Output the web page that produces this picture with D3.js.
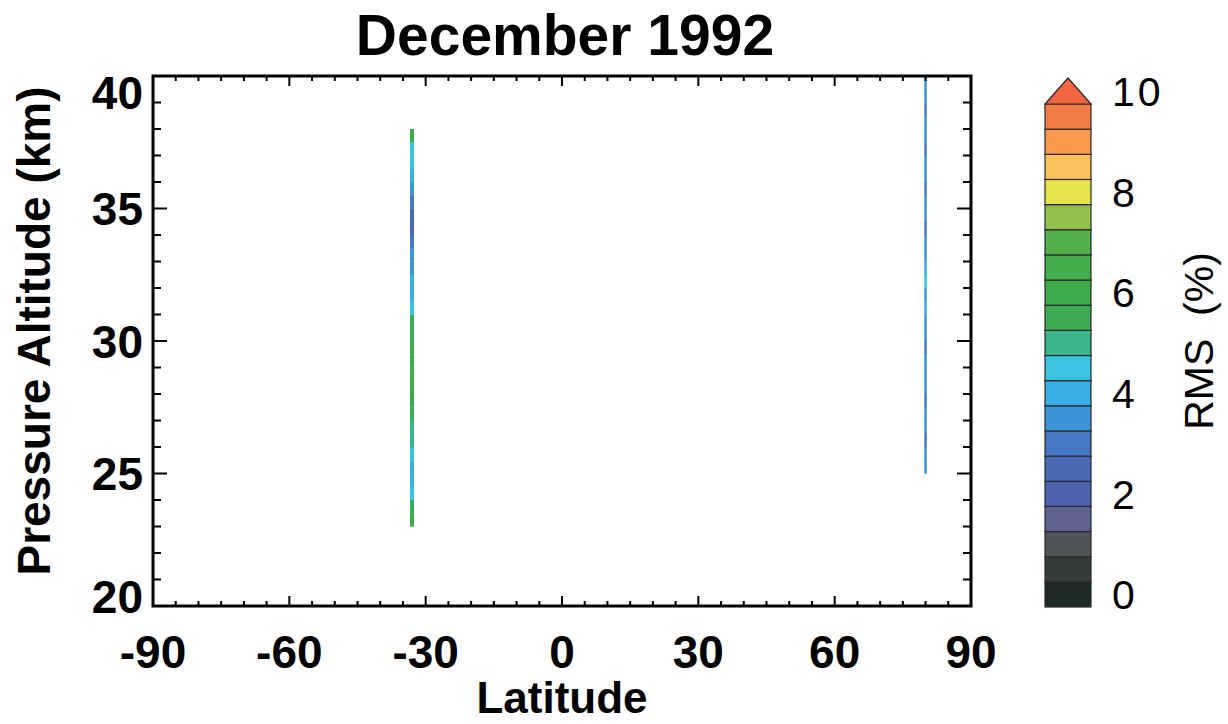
<!DOCTYPE html>
<html>
<head>
<meta charset="utf-8">
<script src="https://cdn.jsdelivr.net/npm/d3@7"></script>
<style>
  html, body { margin: 0; padding: 0; background: #ffffff; }
  svg { display: block; }
  text { font-family: 'Liberation Sans', Arial, Helvetica, sans-serif; fill: #000; }
</style>
</head>
<body>
<div id="chart"></div>
<script>
'use strict';

// ---- data ----
const title = 'December 1992';
const xTicks = [-90, -60, -30, 0, 30, 60, 90];
const yTicks = [20, 25, 30, 35, 40];
const cbTicks = [0, 2, 4, 6, 8, 10];

// colour levels of the RMS scale, 0 .. 10 in 0.5 steps
const cbLevels = [0, 0.5, 1, 1.5, 2, 2.5, 3, 3.5, 4, 4.5, 5,
                  5.5, 6, 6.5, 7, 7.5, 8, 8.5, 9, 9.5, 10];
const cbColors = ['#1d2a26', '#343d39', '#4f5456', '#5e6090', '#4c62ac',
                  '#4868b4', '#4478c4', '#3d93d8', '#37aee6', '#3ac4e2',
                  '#3bb48c', '#3cab52', '#3eaa4c', '#44ad4c', '#4fb04c',
                  '#92c04a', '#e6e44e', '#fcc05a', '#f8984c', '#f47c45',
                  '#f26642'];

// profile 1 (southern, ~33S), 0.5 km layers starting at 23 km
const lat1 = -33;
const alt1 = [23, 23.5, 24, 24.5, 25, 25.5, 26, 26.5, 27, 27.5,
              28, 28.5, 29, 29.5, 30, 30.5, 31, 31.5, 32, 32.5,
              33, 33.5, 34, 34.5, 35, 35.5, 36, 36.5, 37, 37.5];
const rms1 = [6.0, 5.5, 4.5, 4.0, 4.0, 4.5, 5.0, 5.0, 5.5, 6.0,
              6.0, 6.5, 6.0, 6.0, 5.5, 5.5, 4.5, 4.0, 4.0, 3.5,
              3.5, 3.0, 2.5, 2.5, 3.0, 3.5, 4.0, 4.5, 4.5, 6.0];

// profile 2 (northern, ~80N), 0.5 km layers starting at 25 km
const lat2 = 80;
const alt2 = [25, 25.5, 26, 26.5, 27, 27.5, 28, 28.5, 29, 29.5,
              30, 30.5, 31, 31.5, 32, 32.5, 33, 33.5, 34, 34.5,
              35, 35.5, 36, 36.5, 37, 37.5, 38, 38.5, 39, 39.5];
const rms2 = [3.5, 3.5, 3.0, 3.5, 3.5, 3.0, 3.5, 3.5, 3.5, 3.0,
              3.5, 3.5, 4.0, 3.5, 4.5, 4.0, 3.5, 3.5, 3.0, 3.5,
              3.5, 3.0, 3.5, 3.5, 3.0, 3.5, 3.5, 3.0, 3.5, 3.5];

const layer = 0.5;

// ---- layout ----
const width = 1228, height = 724;
const plot = {left: 153, right: 971, top: 76, bottom: 606};
const cb = {left: 1045, right: 1091, top: 104, bottom: 607, tip: 78};

const svg = d3.select('#chart')
  .append('svg')
  .attr('width', width)
  .attr('height', height);

const x = d3.scaleLinear().domain([-90, 90]).range([plot.left, plot.right]);
const y = d3.scaleLinear().domain([20, 40]).range([plot.bottom, plot.top]);

const colorOf = d3.scaleQuantize()
  .domain([-0.25, 10.25])
  .range(cbColors);

// ---- profiles ----
function drawProfile(lat, alts, vals, w) {
  svg.append('g')
    .selectAll('rect')
    .data(alts)
    .join('rect')
    .attr('x', x(lat) - w / 2)
    .attr('y', d => y(d + layer))
    .attr('width', w)
    .attr('height', d => y(d) - y(d + layer) + 0.3)
    .attr('fill', (d, i) => colorOf(vals[i]));
}
drawProfile(lat1, alt1, rms1, 4);
drawProfile(lat2, alt2, rms2, 2.5);

// ---- frame and ticks (all four sides, inward) ----
const frame = svg.append('g');
frame.append('rect')
  .attr('x', plot.left)
  .attr('y', plot.top)
  .attr('width', plot.right - plot.left)
  .attr('height', plot.bottom - plot.top)
  .attr('fill', 'none')
  .attr('stroke', '#000')
  .attr('stroke-width', 3);

const xMinor = d3.range(-90, 90.1, 5);
const yMinor = d3.range(20, 40.1, 1);

xMinor.forEach(function(v) {
  let len = (v % 30 === 0) ? 10 : 5;
  frame.append('line')
    .attr('x1', x(v)).attr('x2', x(v))
    .attr('y1', plot.bottom).attr('y2', plot.bottom - len)
    .attr('stroke', '#000').attr('stroke-width', 2);
  frame.append('line')
    .attr('x1', x(v)).attr('x2', x(v))
    .attr('y1', plot.top).attr('y2', plot.top + len)
    .attr('stroke', '#000').attr('stroke-width', 2);
});
yMinor.forEach(function(v) {
  let len = (v % 5 === 0) ? 14 : 8;
  frame.append('line')
    .attr('x1', plot.left).attr('x2', plot.left + len)
    .attr('y1', y(v)).attr('y2', y(v))
    .attr('stroke', '#000').attr('stroke-width', 2);
  frame.append('line')
    .attr('x1', plot.right).attr('x2', plot.right - len)
    .attr('y1', y(v)).attr('y2', y(v))
    .attr('stroke', '#000').attr('stroke-width', 2);
});

// ---- tick labels ----
svg.append('g')
  .selectAll('text')
  .data(xTicks)
  .join('text')
  .attr('x', d => x(d))
  .attr('y', 668)
  .attr('text-anchor', 'middle')
  .style('font-size', '46px')
  .style('font-weight', 'bold')
  .text(d => d);

svg.append('g')
  .selectAll('text')
  .data(yTicks)
  .join('text')
  .attr('x', 143)
  .attr('y', d => Math.max(plot.top + 16, Math.min(plot.bottom - 10, y(d))))
  .attr('dy', '0.36em')
  .attr('text-anchor', 'end')
  .style('font-size', '46px')
  .style('font-weight', 'bold')
  .text(d => d);

// ---- titles ----
svg.append('text')
  .attr('x', 565)
  .attr('y', 55)
  .attr('text-anchor', 'middle')
  .style('font-size', '57px')
  .style('font-weight', 'bold')
  .text(title);

svg.append('text')
  .attr('x', 562)
  .attr('y', 713)
  .attr('text-anchor', 'middle')
  .style('font-size', '44px')
  .style('font-weight', 'bold')
  .text('Latitude');

svg.append('text')
  .attr('transform', 'translate(50,331) rotate(-90)')
  .attr('text-anchor', 'middle')
  .style('font-size', '46px')
  .style('font-weight', 'bold')
  .text('Pressure Altitude (km)');

// ---- colour bar ----
const bandH = (cb.bottom - cb.top) / (cbLevels.length - 1);
const cy = d3.scaleLinear()
  .domain([0, 10])
  .range([cb.bottom - bandH / 2, cb.top - bandH / 2]);

const bar = svg.append('g');
bar.selectAll('rect')
  .data(cbLevels.slice(0, -1))
  .join('rect')
  .attr('x', cb.left)
  .attr('y', d => cy(d) - bandH / 2)
  .attr('width', cb.right - cb.left)
  .attr('height', bandH)
  .attr('fill', d => colorOf(d))
  .attr('stroke', '#2a2a2a')
  .attr('stroke-width', 1.2);

bar.append('path')
  .attr('d', 'M' + cb.left + ',' + cb.top +
             'L' + (cb.left + cb.right) / 2 + ',' + cb.tip +
             'L' + cb.right + ',' + cb.top + 'Z')
  .attr('fill', colorOf(10))
  .attr('stroke', '#2a2a2a')
  .attr('stroke-width', 1.2);

bar.selectAll('text')
  .data(cbTicks)
  .join('text')
  .attr('x', 1112)
  .attr('y', d => cy(d))
  .attr('dy', '0.36em')
  .style('font-size', '41px')
  .style('letter-spacing', '3px')
  .text(d => d);

svg.append('text')
  .attr('transform', 'translate(1213,341) rotate(-90)')
  .attr('text-anchor', 'middle')
  .style('font-size', '41px')
  .style('white-space', 'pre')
  .text('RMS  (%)');
</script>
</body>
</html>
